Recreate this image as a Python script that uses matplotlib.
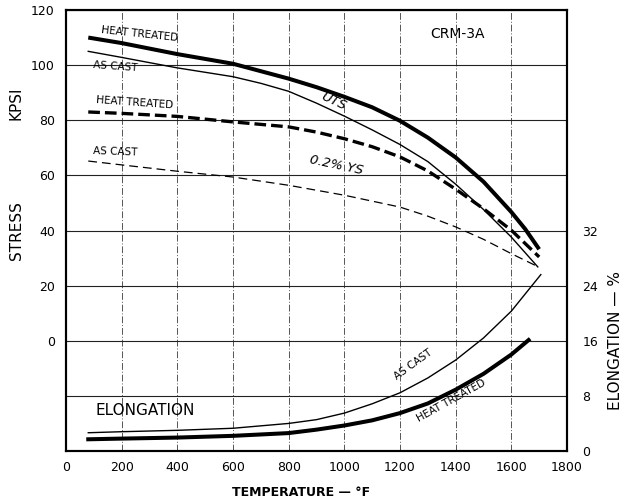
import matplotlib
matplotlib.use("Agg")
import matplotlib.pyplot as plt

# Stress curves (kpsi) against temperature (°F)
temp_uts_ht = [80, 200, 400, 600, 800, 900, 1000, 1100, 1200, 1300, 1400, 1500, 1600, 1650, 1700]
uts_ht = [110, 108, 104, 100.5, 95.1, 92, 88.5, 84.7, 79.8, 73.7, 66.5, 57.7, 46.7, 40.5, 33.2]

temp_uts_ac = [80, 200, 400, 600, 700, 800, 900, 1000, 1100, 1200, 1300, 1400, 1500, 1600, 1695]
uts_ac = [105, 102.8, 99, 95.8, 93.4, 90.5, 86.2, 81.5, 76.5, 71.2, 65.0, 56.8, 47.6, 37.6, 26.8]

temp_ys_ht = [80, 200, 400, 600, 800, 900, 1000, 1100, 1200, 1300, 1400, 1500, 1600, 1700]
ys_ht = [83, 82.5, 81.4, 79.4, 77.6, 75.7, 73.3, 70.4, 66.7, 61.6, 55.0, 47.9, 40.1, 30.4]

temp_ys_ac = [80, 200, 400, 600, 800, 1000, 1200, 1300, 1400, 1500, 1600, 1695]
ys_ac = [65.2, 63.8, 61.5, 59.4, 56.4, 52.8, 48.5, 45.2, 41.3, 36.8, 31.6, 26.9]

# Elongation curves (%)
temp_el_ac = [80, 200, 400, 600, 800, 900, 1000, 1100, 1200, 1300, 1400, 1500, 1600, 1706]
el_ac = [2.65, 2.8, 3.0, 3.3, 4.0, 4.55, 5.5, 6.85, 8.45, 10.6, 13.2, 16.4, 20.3, 25.6]

temp_el_ht = [80, 200, 400, 600, 800, 900, 1000, 1100, 1200, 1300, 1400, 1500, 1600, 1662]
el_ht = [1.7, 1.8, 1.95, 2.2, 2.6, 3.1, 3.7, 4.45, 5.5, 6.9, 8.9, 11.2, 14.0, 16.1]

temp_ticks = list(range(0, 1801, 200))
stress_ticks = [-20, 0, 20, 40, 60, 80, 100, 120]
stress_labels = ["", "0", "20", "40", "60", "80", "100", "120"]
elong_ticks = [0, 8, 16, 24, 32]

plt.rcParams["font.family"] = "DejaVu Sans"

fig = plt.figure(figsize=(6.26, 5.04), dpi=100)
ax = fig.add_axes([66 / 626, 1 - 451 / 504, 501 / 626, 441 / 504])
ax2 = ax.twinx()

ax.set_xlim(0, 1800)
ax.set_ylim(-40, 120)
ax2.set_ylim(0, 64)

ax.set_xticks(temp_ticks)
ax.set_yticks(stress_ticks)
ax.set_yticklabels(stress_labels)
ax2.set_yticks(elong_ticks)
ax.tick_params(axis="both", length=0, labelsize=9)
ax.tick_params(axis="x", pad=7)
ax.tick_params(axis="y", pad=8)
ax2.tick_params(axis="y", length=0, labelsize=9, pad=11)

ax.yaxis.grid(True, color="#222222", lw=0.8)
ax.xaxis.grid(True, color="#555555", lw=0.7, ls=(0, (7, 2, 1, 2)))
ax.set_axisbelow(True)
for a in (ax, ax2):
    for s in a.spines.values():
        s.set_linewidth(1.5)
        s.set_color("black")

# UTS and 0.2% YS
ax.plot(temp_uts_ht, uts_ht, color="black", lw=2.9, solid_capstyle="butt")
ax.plot(temp_uts_ac, uts_ac, color="black", lw=1.0)
ax.plot(temp_ys_ht, ys_ht, color="black", lw=2.4, ls=(0, (3.5, 1.5)))
ax.plot(temp_ys_ac, ys_ac, color="black", lw=0.9, ls=(0, (7, 4)))

# elongation on the right-hand scale
ax2.plot(temp_el_ac, el_ac, color="black", lw=1.0)
ax2.plot(temp_el_ht, el_ht, color="black", lw=2.9)

lbl = dict(ha="center", va="center", fontsize=7.5)
ax.text(266, 111.3, "HEAT TREATED", rotation=-6, **lbl)
ax.text(176, 99.3, "AS CAST", rotation=-4, **lbl)
ax.text(248, 86.3, "HEAT TREATED", rotation=-4, **lbl)
ax.text(176, 68.5, "AS CAST", rotation=-2, **lbl)
ax.text(961, 86.7, "UTS", rotation=-25, ha="center", va="center", fontsize=9.5, style="italic")
ax.text(972, 63.8, "0.2% YS", rotation=-12, ha="center", va="center", fontsize=9.5, style="italic")
ax.text(1408, 111.3, "CRM-3A", ha="center", va="center", fontsize=10)
ax.text(286, -25.3, "ELONGATION", ha="center", va="center", fontsize=11)
ax.text(1246, -8.7, "AS CAST", rotation=36, **lbl)
ax.text(1385, -21.6, "HEAT TREATED", rotation=29, **lbl)

fig.text(16 / 626, 1 - 103 / 504, "KPSI", rotation=90, ha="center", va="center", fontsize=11)
fig.text(16 / 626, 1 - 231 / 504, "STRESS", rotation=90, ha="center", va="center", fontsize=11)
fig.text(616 / 626, 1 - 340 / 504, "ELONGATION — %", rotation=90, ha="center", va="center", fontsize=11)
fig.text(301 / 626, 1 - 492 / 504, "TEMPERATURE — °F", ha="center", va="center",
         fontsize=9, fontweight="bold")

fig.savefig("out.png", dpi=100)
